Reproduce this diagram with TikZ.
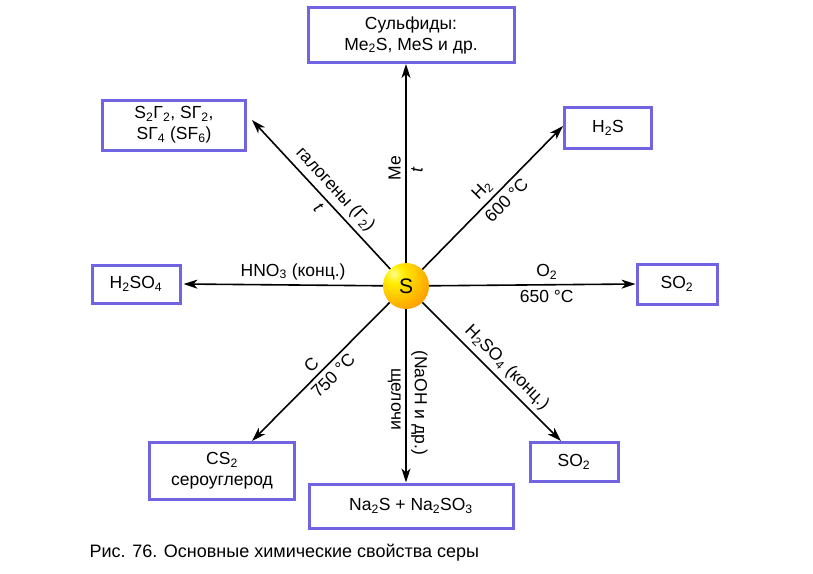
\documentclass[tikz,border=0pt]{standalone}
\usepackage{fontspec}
\setmainfont{Liberation Sans}
\usetikzlibrary{arrows.meta}

\definecolor{boxblue}{RGB}{112,100,226}
\pgfdeclareradialshading{sulfurball}{\pgfpoint{-14bp}{14bp}}{%
  color(0bp)=(yellow!45!white); color(10bp)=(yellow!85!orange);
  color(32bp)=(orange!65!yellow); color(55bp)=(orange!90!red);
  color(100bp)=(orange!90!red)}

\tikzset{
  product/.style={draw=boxblue, line width=3pt, fill=white, align=center,
    inner sep=2pt, font=\fontsize{17.5}{21}\selectfont},
  reaction/.style={line width=1.6pt, -{Stealth[length=14pt,width=9pt,inset=4pt]}},
  cond/.style={font=\fontsize{17.5}{20}\selectfont, inner sep=4.5pt}
}

\begin{document}
\begin{tikzpicture}[x=1pt, y=-1pt]
    \useasboundingbox (0,0) rectangle (813,573);
    % sulfur in the middle
    \node[circle, minimum size=46pt, inner sep=0pt, shading=sulfurball,
      font=\fontsize{21}{21}\selectfont] (sulfur) at (406,286) {S};

    % products around it
    \node[product, minimum width=206pt, minimum height=55pt] (sulfides) at (411,35)
      {Сульфиды:\\Me\textsubscript{2}S, MeS и др.};
    \node[product, minimum width=143pt, minimum height=50pt] (halides) at (174,125)
      {S\textsubscript{2}Γ\textsubscript{2}, SΓ\textsubscript{2},\\SΓ\textsubscript{4} (SF\textsubscript{6})};
    \node[product, minimum width=87pt, minimum height=41pt] (hydrogen sulfide) at (608,128)
      {H\textsubscript{2}S};
    \node[product, minimum width=88pt, minimum height=38pt] (sulfuric acid) at (136,284)
      {H\textsubscript{2}SO\textsubscript{4}};
    \node[product, minimum width=80pt, minimum height=40pt] (dioxide right) at (677,284)
      {SO\textsubscript{2}};
    \node[product, minimum width=145pt, minimum height=57pt] (carbon disulfide) at (222,471)
      {CS\textsubscript{2}\\сероуглерод};
    \node[product, minimum width=204pt, minimum height=44pt] (sodium salts) at (411,506)
      {Na\textsubscript{2}S + Na\textsubscript{2}SO\textsubscript{3}};
    \node[product, minimum width=88pt, minimum height=39pt] (dioxide low) at (574,462)
      {SO\textsubscript{2}};

    % arrows with their conditions
    \draw[reaction] (sulfur) -- (sulfur |- sulfides.south)
      node[cond, pos=0.475, rotate=90, anchor=south] (metal) {Me}
      node[cond, pos=0.47, rotate=90, anchor=north] (heat metal) {\textit{t}};
    \draw[reaction] (sulfur) -- ([shift={(5pt,5pt)}]halides.east)
      node[cond, pos=0.47, sloped, above] (halogens) {галогены (Γ\textsubscript{2})}
      node[cond, pos=0.46, sloped, below] (heat halogen) {\textit{t}};
    \draw[reaction] (sulfur) -- ([yshift=2pt]hydrogen sulfide.west)
      node[cond, pos=0.49, sloped, above] (hydrogen) {H\textsubscript{2}}
      node[cond, pos=0.54, sloped, below] (temp hydrogen) {600 °C};
    \draw[reaction] (sulfur) -- ([xshift=2pt]sulfuric acid.east)
      node[cond, pos=0.45, above] (nitric) {HNO\textsubscript{3} (конц.)};
    \draw[reaction] (sulfur) -- (dioxide right.west)
      node[cond, pos=0.57, above] (oxygen) {O\textsubscript{2}}
      node[cond, pos=0.57, below] (temp oxygen) {650 °C};
    \draw[reaction] (sulfur) -- ([xshift=30pt]carbon disulfide.north)
      node[cond, pos=0.51, sloped, above] (carbon) {C}
      node[cond, pos=0.47, sloped, below] (temp carbon) {750 °C};
    \draw[reaction] (sulfur) -- (sulfur |- sodium salts.north)
      node[cond, pos=0.52, rotate=-90, anchor=north] (alkali) {щелочи}
      node[cond, pos=0.54, rotate=-90, anchor=south] (naoh) {(NaOH и др.)};
    \draw[reaction] (sulfur) -- ([xshift=-13pt]dioxide low.north)
      node[cond, pos=0.54, sloped, above] (conc acid) {H\textsubscript{2}SO\textsubscript{4} (конц.)};

    % caption
    \node[anchor=west, font=\fontsize{18}{21}\selectfont] (caption) at (86,553)
      {Рис. 76. Основные химические свойства серы};
\end{tikzpicture}
\end{document}
